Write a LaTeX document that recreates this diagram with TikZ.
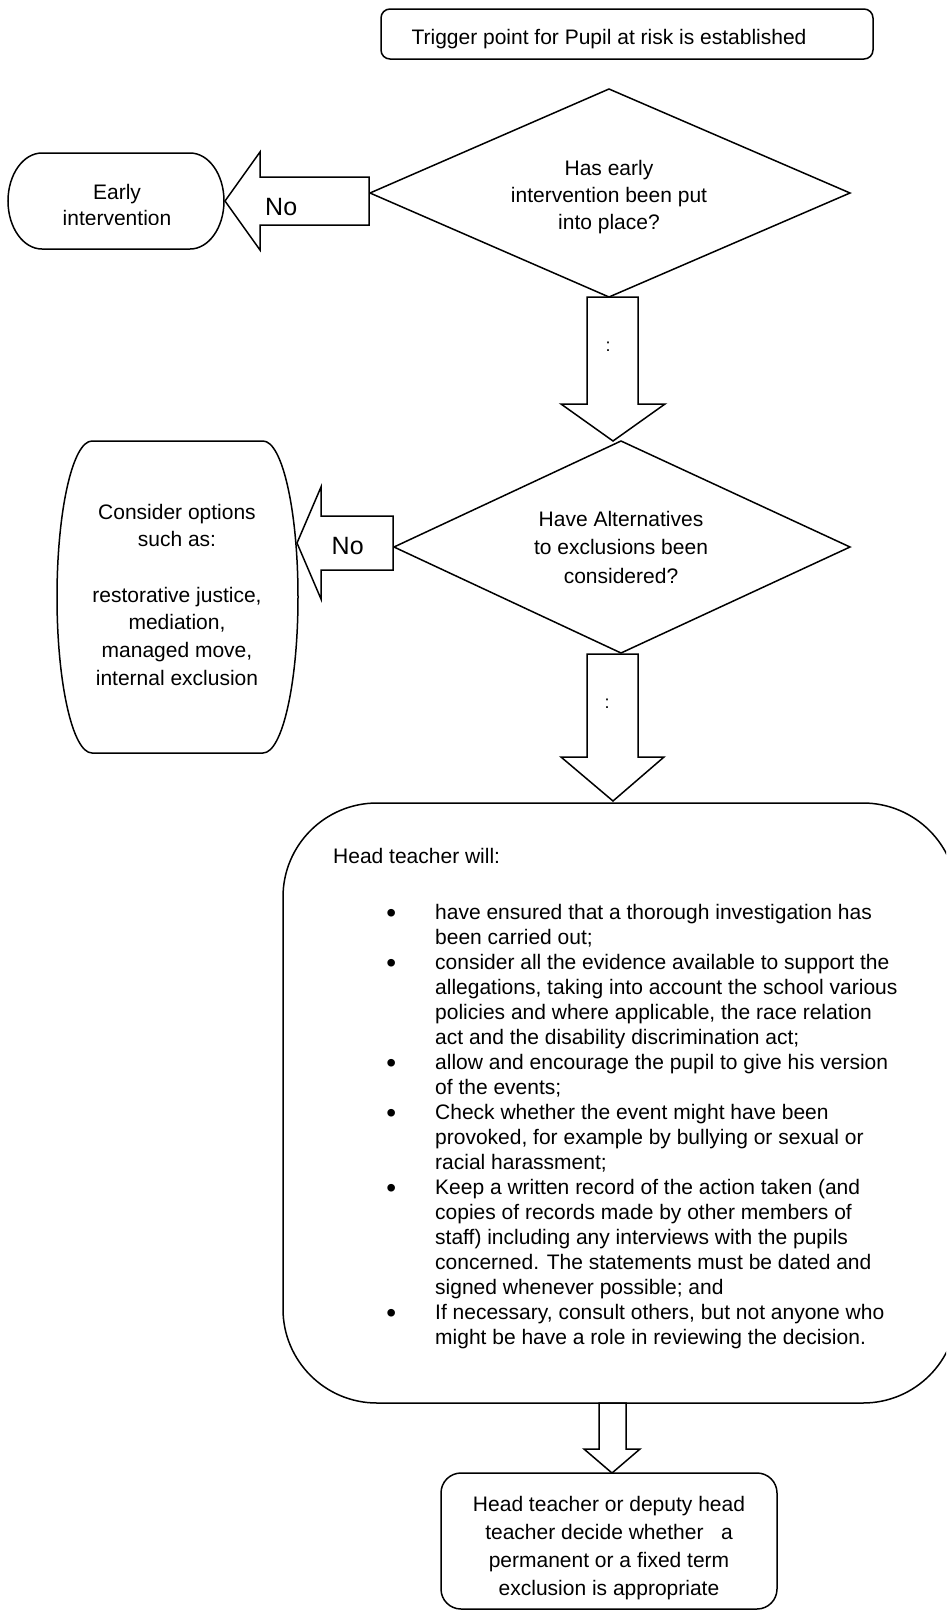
\documentclass[tikz,border=0pt]{standalone}
\usepackage{fontspec}
\setmainfont{Liberation Sans}
\newcommand\ovalpath[6]{%
 ({#1+#5},#2) -- ({#3-#5},#2)
 .. controls ({#3-#5+0.5523*#5},#2) and (#3,{#2+#6-0.5523*#6}) .. (#3,{#2+#6})
 -- (#3,{#4-#6})
 .. controls (#3,{#4-#6+0.5523*#6}) and ({#3-#5+0.5523*#5},#4) .. ({#3-#5},#4)
 -- ({#1+#5},#4)
 .. controls ({#1+#5-0.5523*#5},#4) and (#1,{#4-#6+0.5523*#6}) .. (#1,{#4-#6})
 -- (#1,{#2+#6})
 .. controls (#1,{#2+#6-0.5523*#6}) and ({#1+#5-0.5523*#5},#2) .. ({#1+#5},#2) -- cycle}
\newcommand\bigbul{\hspace*{4pt}\makebox[0pt]{\raisebox{-2.5pt}{\fontsize{28}{25}\selectfont\textbullet}}}
\tikzset{
  shp/.style={draw=black, line width=1.5pt, fill=white, line join=miter},
  ctext/.style={inner sep=0pt, font=\fontsize{21}{#1}\selectfont},
  notext/.style={inner sep=0pt, anchor=base west, font=\fontsize{25}{30}\selectfont},
  colontext/.style={inner sep=0pt, font=\fontsize{18}{20}\selectfont}
}
\begin{document}
\begin{tikzpicture}[x=1pt,y=-1pt]
\useasboundingbox (0,0) rectangle (946,1612);
\clip (0,0) rectangle (946,1612);
% shapes
\draw[shp] \ovalpath{381}{9}{873}{59}{9}{9};
\draw[shp] (370,193) -- (609,89) -- (850,193) -- (609,297) -- cycle;
\draw[shp] \ovalpath{8}{153}{224}{249}{34}{48};
\draw[shp] (225,201) -- (260,152) -- (260,177) -- (369,177) -- (369,225) -- (260,225) -- (260,250) -- cycle;
\draw[shp] (587,297) -- (638,297) -- (638,404) -- (665,404) -- (613,441) -- (561,404) -- (587,404) -- cycle;
\draw[shp] (394,547) -- (621,441) -- (850,547) -- (621,653) -- cycle;
\draw[shp] \ovalpath{57}{441}{298}{753}{35}{156};
\draw[shp] (297,543) -- (321,487) -- (321,516) -- (393,516) -- (393,570) -- (321,570) -- (321,599) -- cycle;
\draw[shp] (587,654) -- (638,654) -- (638,757) -- (664,757) -- (613,801) -- (561,757) -- (587,757) -- cycle;
\draw[shp] \ovalpath{283}{803}{957}{1403}{94}{94};
\draw[shp] (599,1403) -- (626,1403) -- (626,1449) -- (640,1449) -- (612,1473) -- (584,1449) -- (599,1449) -- cycle;
\draw[shp] \ovalpath{441}{1473}{777}{1609}{20}{20};
% texts (some are cut at the bottom, as printed)
\begin{scope}
\clip (381,9) rectangle (873,49.5);
\node[ctext=25, anchor=base] (trig) at (609,44) {Trigger point for Pupil at risk is established};
\end{scope}
\node[ctext=27] (q1) at (609,197.1) {\begin{tabular}{@{}c@{}}Has early\\intervention been put\\into place?\end{tabular}};
\begin{scope}
\clip (8,153) rectangle (224,224);
\node[ctext=26] (early) at (117,206.8) {\begin{tabular}{@{}c@{}}Early\\intervention\end{tabular}};
\end{scope}
\begin{scope}
\clip (260,177) rectangle (369,215.5);
\node[notext] (no1) at (265,215) {No};
\end{scope}
\node[colontext] (yes1) at (608,347) {:};
\node[ctext=28.5] (q2) at (621,548.8) {\begin{tabular}{@{}c@{}}Have Alternatives\\to exclusions been\\considered?\end{tabular}};
\node[ctext=27.67] (opts) at (177,596.5) {\begin{tabular}{@{}c@{}}Consider options\\such as:\\ \\restorative justice,\\mediation,\\managed move,\\internal exclusion\end{tabular}};
\node[notext] (no2) at (331.5,554.6) {No};
\node[colontext] (yes2) at (607,704) {:};
\node[ctext=25, anchor=base west] (htw) at (333,863) {Head teacher will:};
\node[ctext=25, anchor=north west] (list) at (387,901.8) {\begin{tabular}{@{}p{48pt}@{}l@{}}
\bigbul & have ensured that a thorough investigation has\\
& been carried out;\\
\bigbul & consider all the evidence available to support the\\
& allegations, taking into account the school various\\
& policies and where applicable, the race relation\\
& act and the disability discrimination act;\\
\bigbul & allow and encourage the pupil to give his version\\
& of the events;\\
\bigbul & Check whether the event might have been\\
& provoked, for example by bullying or sexual or\\
& racial harassment;\\
\bigbul & Keep a written record of the action taken (and\\
& copies of records made by other members of\\
& staff) including any interviews with the pupils\\
& concerned. The statements must be dated and\\
& signed whenever possible; and\\
\bigbul & If necessary, consult others, but not anyone who\\
& might be have a role in reviewing the decision.
\end{tabular}};
\node[ctext=28] (decide) at (609,1548.1) {\begin{tabular}{@{}c@{}}Head teacher or deputy head\\teacher decide whether\ \ \ a\\permanent or a fixed term\\exclusion is appropriate\end{tabular}};
\end{tikzpicture}
\end{document}
